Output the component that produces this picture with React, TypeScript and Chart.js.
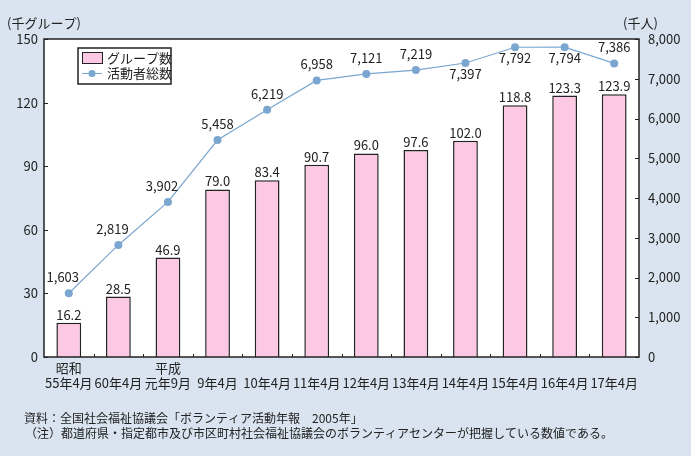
import React, { useEffect, useRef } from "react";
import { Chart, registerables } from "chart.js";

Chart.register(...registerables);

const categories: (string | string[])[] = [
  ["昭和", "55年4月"],
  ["", "60年4月"],
  ["平成", "元年9月"],
  ["", "9年4月"],
  ["", "10年4月"],
  ["", "11年4月"],
  ["", "12年4月"],
  ["", "13年4月"],
  ["", "14年4月"],
  ["", "15年4月"],
  ["", "16年4月"],
  ["", "17年4月"],
];
const groupCounts = [16.2, 28.5, 46.9, 79.0, 83.4, 90.7, 96.0, 97.6, 102.0, 118.8, 123.3, 123.9];
const activistTotals = [1603, 2819, 3902, 5458, 6219, 6958, 7121, 7219, 7397, 7792, 7794, 7386];
const lineLabelPlacement = ["aboveLeft", "aboveLeft", "aboveLeft", "above", "above", "above", "above", "above", "below", "below", "below", "above"];
const leftTicks = [0, 30, 60, 90, 120, 150];
const rightTicks = [0, 1000, 2000, 3000, 4000, 5000, 6000, 7000, 8000];
const leftUnit = "(千グループ)";
const rightUnit = "(千人)";
const barName = "グループ数";
const lineName = "活動者総数";
const footnotes = [
  "資料：全国社会福祉協議会「ボランティア活動年報　2005年」",
  "（注）都道府県・指定都市及び市区町村社会福祉協議会のボランティアセンターが把握している数値である。",
];

const FONT = '"Noto Sans CJK JP", "Noto Sans", sans-serif';
const BG = "#d9e4f0";
const PINK = "#fcc8e3";
const LINE = "#7ba6d0";
const INK = "#222222";

export default function App() {
  const ref = useRef<HTMLCanvasElement | null>(null);

  useEffect(() => {
    if (!ref.current) return;
    const custom = {
      id: "custom",
      beforeDraw(chart: any) {
        const { ctx, chartArea: a } = chart;
        ctx.save();
        ctx.fillStyle = BG;
        ctx.fillRect(0, 0, chart.width, chart.height);
        ctx.fillStyle = "#ffffff";
        ctx.fillRect(a.left, a.top, a.right - a.left, a.bottom - a.top);
        ctx.restore();
      },
      afterDatasetsDraw(chart: any) {
        const { ctx, chartArea: a, scales } = chart;
        ctx.save();
        // frame
        ctx.strokeStyle = INK;
        ctx.lineWidth = 1.5;
        ctx.strokeRect(a.left, a.top, a.right - a.left, a.bottom - a.top);
        // ticks
        ctx.lineWidth = 1;
        ctx.beginPath();
        leftTicks.forEach((v) => {
          const y = Math.round(scales.y.getPixelForValue(v)) + 0.5;
          ctx.moveTo(a.left, y);
          ctx.lineTo(a.left + 4, y);
        });
        rightTicks.forEach((v) => {
          const y = Math.round(scales.y1.getPixelForValue(v)) + 0.5;
          ctx.moveTo(a.right - 4, y);
          ctx.lineTo(a.right, y);
        });
        for (let i = 1; i < categories.length; i++) {
          const x = Math.round((scales.x.getPixelForValue(i - 1) + scales.x.getPixelForValue(i)) / 2) + 0.5;
          ctx.moveTo(x, a.bottom);
          ctx.lineTo(x, a.bottom - 3);
        }
        ctx.stroke();

        // value labels
        ctx.fillStyle = INK;
        ctx.font = `13px ${FONT}`;
        ctx.textAlign = "center";
        ctx.textBaseline = "middle";
        const barMeta = chart.getDatasetMeta(0);
        barMeta.data.forEach((el: any, i: number) => {
          ctx.fillText(groupCounts[i].toFixed(1), el.x, el.y - 8);
        });
        const lineMeta = chart.getDatasetMeta(1);
        lineMeta.data.forEach((el: any, i: number) => {
          const p = lineLabelPlacement[i];
          const txt = activistTotals[i].toLocaleString("en-US");
          if (p === "below") ctx.fillText(txt, el.x, el.y + 11);
          else if (p === "aboveLeft") ctx.fillText(txt, el.x - 6, el.y - 16);
          else ctx.fillText(txt, el.x, el.y - 16);
        });

        // legend
        ctx.fillStyle = "#ffffff";
        ctx.fillRect(78, 48, 93, 36);
        ctx.strokeStyle = INK;
        ctx.lineWidth = 1.5;
        ctx.strokeRect(78, 48, 93, 36);
        ctx.fillStyle = PINK;
        ctx.fillRect(82.5, 52.5, 20, 11);
        ctx.lineWidth = 1;
        ctx.strokeRect(82.5, 52.5, 20, 11);
        ctx.strokeStyle = LINE;
        ctx.beginPath();
        ctx.moveTo(82, 73.5);
        ctx.lineTo(102, 73.5);
        ctx.stroke();
        ctx.fillStyle = LINE;
        ctx.beginPath();
        ctx.arc(92, 73.5, 3.5, 0, Math.PI * 2);
        ctx.fill();
        ctx.fillStyle = INK;
        ctx.textAlign = "left";
        ctx.font = `13px ${FONT}`;
        ctx.fillText(barName, 107, 58);
        ctx.fillText(lineName, 107, 73);

        // units
        ctx.fillText(leftUnit, 7, 23);
        ctx.fillText(rightUnit, 623, 23);

        // footnotes
        ctx.font = `12px ${FONT}`;
        ctx.fillText(footnotes[0], 24, 418);
        ctx.fillText(footnotes[1], 25, 433);
        ctx.restore();
      },
    };

    const chart = new Chart(ref.current, {
      type: "bar",
      data: {
        labels: categories as any,
        datasets: [
          {
            type: "bar",
            label: barName,
            data: groupCounts,
            yAxisID: "y",
            backgroundColor: PINK,
            borderColor: INK,
            borderWidth: 1.5,
            barPercentage: 0.5,
            categoryPercentage: 1,
            order: 1,
          },
          {
            type: "line",
            label: lineName,
            data: activistTotals,
            yAxisID: "y1",
            borderColor: LINE,
            backgroundColor: LINE,
            borderWidth: 1.2,
            pointRadius: 4,
            pointBorderWidth: 0,
            pointBackgroundColor: LINE,
            tension: 0,
            order: 0,
          } as any,
        ],
      },
      options: {
        responsive: false,
        animation: false,
        devicePixelRatio: 1,
        layout: { padding: { top: 39, left: 0, right: 0, bottom: 0 } },
        plugins: { legend: { display: false }, tooltip: { enabled: false } },
        scales: {
          x: {
            grid: { display: false, drawTicks: false },
            border: { display: false },
            ticks: {
              color: INK,
              font: { family: FONT, size: 13 },
              padding: 3,
              autoSkip: false,
              maxRotation: 0,
              minRotation: 0,
            },
            afterFit(s: any) {
              s.height = 99;
            },
          },
          y: {
            position: "left",
            min: 0,
            max: 150,
            grid: { display: false, drawTicks: false },
            border: { display: false },
            ticks: {
              stepSize: 30,
              color: INK,
              font: { family: FONT, size: 13 },
              padding: 6,
            },
            afterFit(s: any) {
              s.width = 44;
            },
          },
          y1: {
            position: "right",
            min: 0,
            max: 8000,
            grid: { display: false, drawTicks: false },
            border: { display: false },
            ticks: {
              stepSize: 1000,
              color: INK,
              font: { family: FONT, size: 13 },
              padding: 9,
              callback: (v: any) => Number(v).toLocaleString("en-US"),
            },
            afterFit(s: any) {
              s.width = 52;
            },
          },
        },
      },
      plugins: [custom],
    });
    return () => chart.destroy();
  }, []);

  return (
    <div style={{ position: "fixed", left: 0, top: 0, width: 691, height: 456, background: BG }}>
      <canvas ref={ref} width={691} height={456} style={{ display: "block", width: 691, height: 456 }} />
    </div>
  );
}
